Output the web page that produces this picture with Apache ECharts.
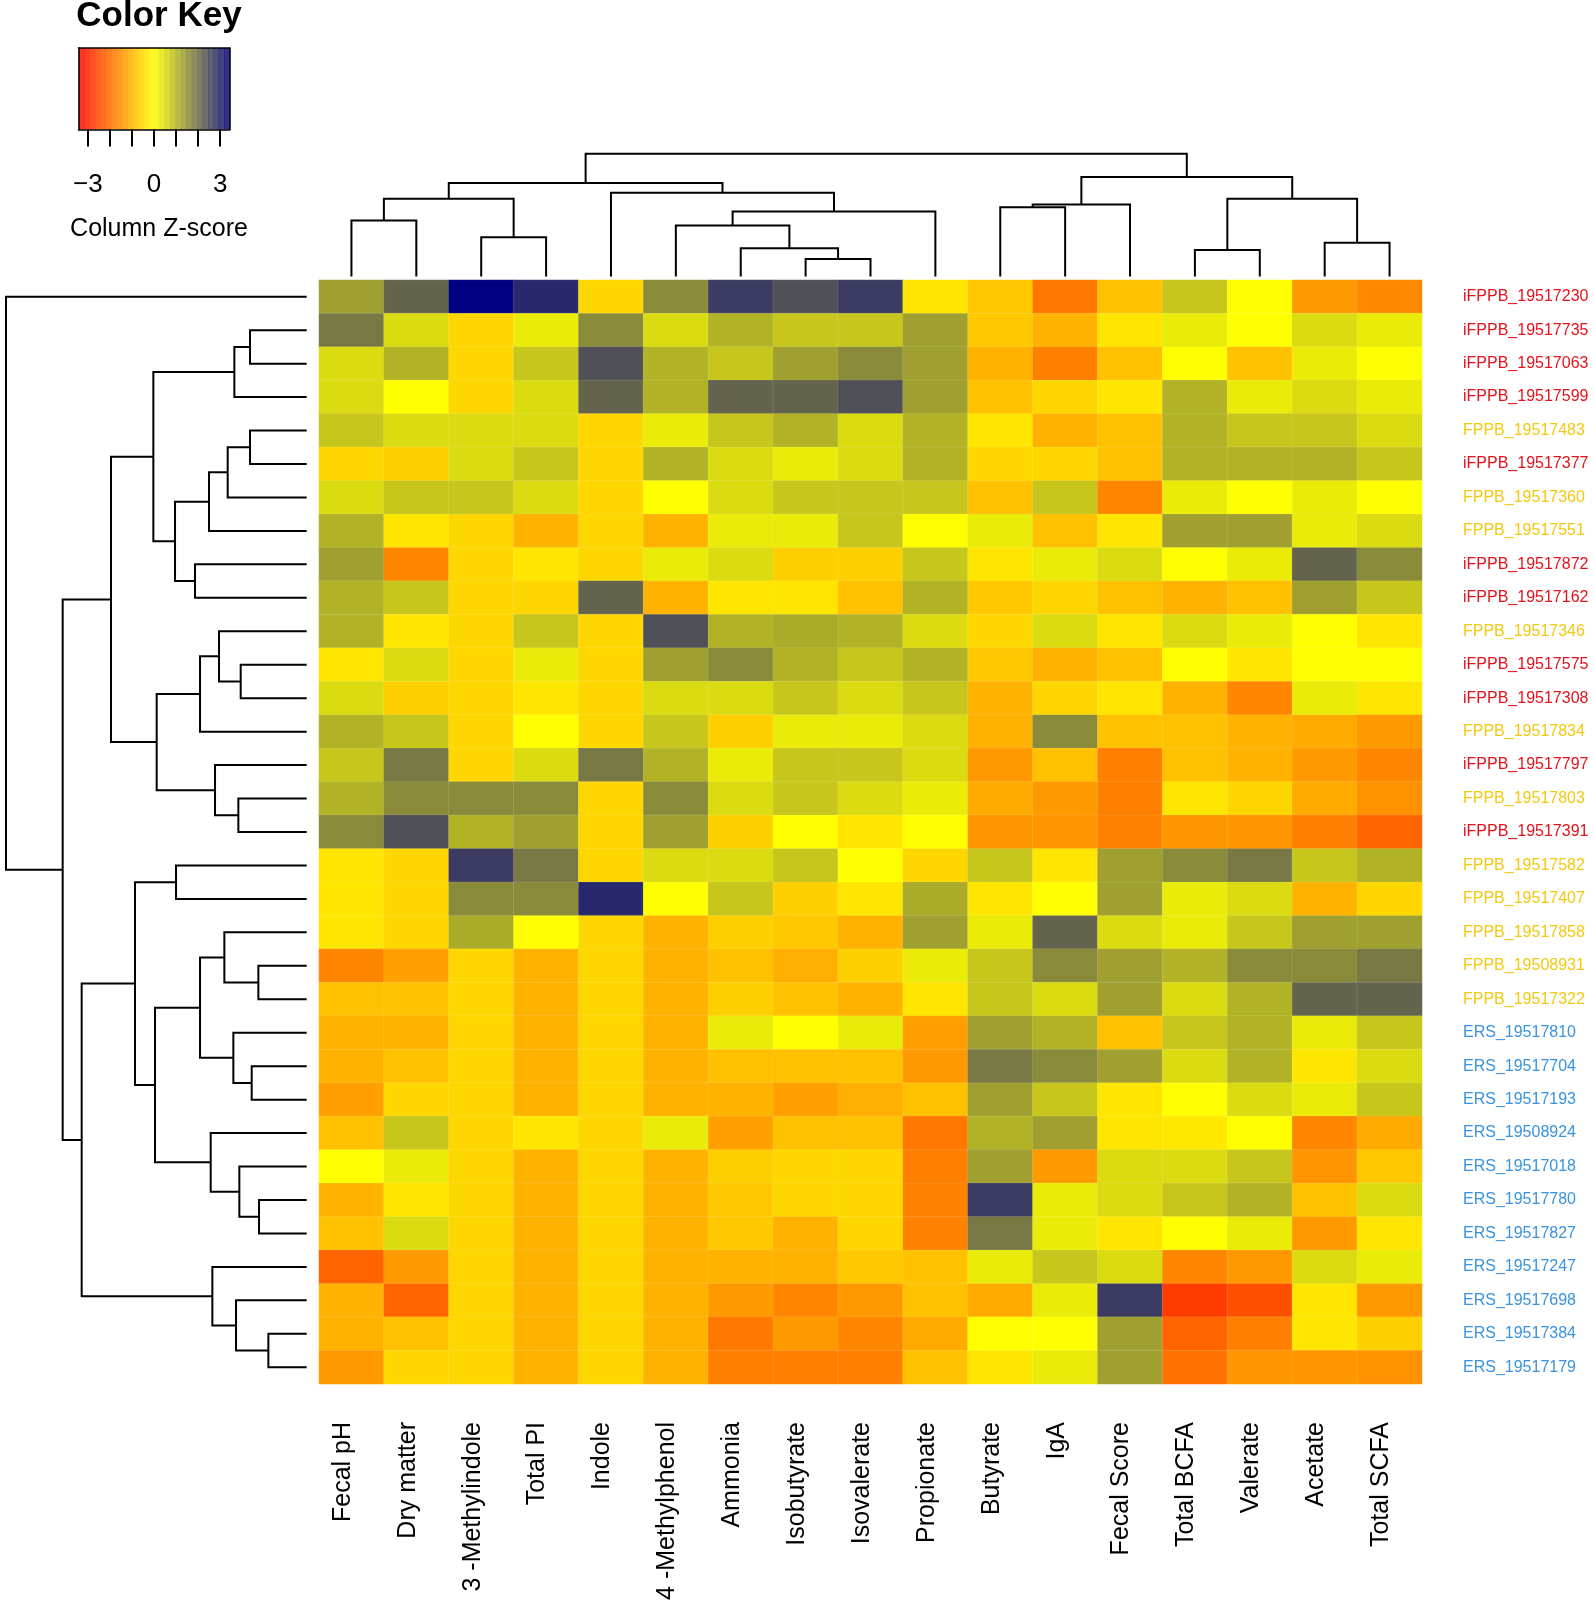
<!DOCTYPE html>
<html><head><meta charset="utf-8">
<script src="https://cdn.jsdelivr.net/npm/echarts@6/dist/echarts.min.js"></script>
<style>html,body{margin:0;padding:0;background:#fff}#chart{width:1594px;height:1606px}</style>
</head><body><div id="chart"></div>
<script>
// ---- data ----
const variables = ['Fecal pH','Dry matter','3 -Methylindole','Total PI','Indole','4 -Methylphenol','Ammonia','Isobutyrate','Isovalerate','Propionate','Butyrate','IgA','Fecal Score','Total BCFA','Valerate','Acetate','Total SCFA'];
const samples = ['iFPPB_19517230','iFPPB_19517735','iFPPB_19517063','iFPPB_19517599','FPPB_19517483','iFPPB_19517377','FPPB_19517360','FPPB_19517551','iFPPB_19517872','iFPPB_19517162','FPPB_19517346','iFPPB_19517575','iFPPB_19517308','FPPB_19517834','iFPPB_19517797','FPPB_19517803','iFPPB_19517391','FPPB_19517582','FPPB_19517407','FPPB_19517858','FPPB_19508931','FPPB_19517322','ERS_19517810','ERS_19517704','ERS_19517193','ERS_19508924','ERS_19517018','ERS_19517780','ERS_19517827','ERS_19517247','ERS_19517698','ERS_19517384','ERS_19517179'];
const groupColors = {iFPPB:'#E3121B', FPPB:'#F2C811', ERS:'#3A93E0'};
// column z-scores, one list per sample row (in the order of variables)
const zScores = [
 [1.3, 2.13, 3.5, 2.95, -0.55, 1.6, 2.68, 2.4, 2.68, -0.34, -0.75, -1.85, -0.85, 0.78, 0, -1.4, -1.6],
 [1.85, 0.5, -0.55, 0.27, 1.6, 0.5, 1.06, 0.78, 0.78, 1.3, -0.75, -1.05, -0.34, 0.27, 0, 0.5, 0.27],
 [0.5, 1.06, -0.55, 0.78, 2.4, 1.06, 0.78, 1.3, 1.6, 1.3, -1.05, -1.75, -0.85, 0, -0.85, 0.27, 0],
 [0.5, 0, -0.55, 0.5, 2.13, 1.06, 2.13, 2.13, 2.4, 1.3, -0.85, -0.55, -0.34, 1.06, 0.27, 0.5, 0.27],
 [0.78, 0.5, 0.5, 0.5, -0.55, 0.27, 0.78, 1.06, 0.5, 1.06, -0.34, -1.05, -0.85, 1.06, 0.78, 0.78, 0.5],
 [-0.55, -0.65, 0.5, 0.78, -0.55, 1.06, 0.5, 0.27, 0.5, 1.06, -0.55, -0.55, -0.85, 1.06, 1.06, 1.06, 0.78],
 [0.5, 0.78, 0.78, 0.5, -0.55, 0, 0.5, 0.78, 0.78, 0.78, -0.85, 0.78, -1.65, 0.27, 0, 0.27, 0],
 [1.06, -0.34, -0.55, -1.05, -0.55, -1.05, 0.27, 0.27, 0.78, 0, 0.27, -0.85, -0.34, 1.3, 1.3, 0.27, 0.5],
 [1.3, -1.65, -0.55, -0.34, -0.55, 0.27, 0.5, -0.65, -0.65, 0.78, -0.34, 0.27, 0.5, 0, 0.27, 2.13, 1.6],
 [1.06, 0.78, -0.55, -0.55, 2.13, -1.05, -0.34, -0.34, -0.85, 1.06, -0.75, -0.55, -0.85, -1.05, -0.85, 1.3, 0.78],
 [1.06, -0.34, -0.55, 0.78, -0.55, 2.4, 1.06, 1.15, 1.06, 0.5, -0.55, 0.5, -0.34, 0.5, 0.27, 0, -0.34],
 [-0.34, 0.5, -0.55, 0.27, -0.55, 1.3, 1.6, 1.06, 0.78, 1.06, -0.75, -1.05, -0.85, 0, -0.34, 0, 0],
 [0.5, -0.65, -0.55, -0.34, -0.55, 0.5, 0.5, 0.78, 0.5, 0.78, -1.05, -0.55, -0.34, -1.05, -1.65, 0.27, -0.34],
 [1.06, 0.78, -0.55, 0, -0.55, 0.78, -0.65, 0.27, 0.27, 0.5, -1.05, 1.6, -0.85, -0.85, -1.05, -1.15, -1.4],
 [0.78, 1.85, -0.55, 0.5, 1.85, 1.06, 0.27, 0.78, 0.78, 0.5, -1.4, -0.85, -1.75, -0.85, -1.05, -1.4, -1.65],
 [1.06, 1.6, 1.6, 1.6, -0.55, 1.6, 0.5, 0.78, 0.5, 0.27, -1.15, -1.4, -1.75, -0.34, -0.55, -1.15, -1.5],
 [1.6, 2.4, 1.06, 1.3, -0.55, 1.3, -0.65, 0, -0.34, 0, -1.45, -1.45, -1.7, -1.45, -1.45, -1.75, -2.13],
 [-0.34, -0.55, 2.68, 1.85, -0.55, 0.5, 0.5, 0.78, 0, -0.55, 0.78, -0.34, 1.3, 1.6, 1.85, 0.78, 1.06],
 [-0.34, -0.55, 1.6, 1.6, 2.95, 0, 0.78, -0.65, -0.34, 1.15, -0.34, 0, 1.3, 0.27, 0.5, -1.05, -0.55],
 [-0.34, -0.55, 1.15, 0, -0.55, -1.05, -0.65, -0.75, -1.05, 1.3, 0.27, 2.13, 0.5, 0.27, 0.78, 1.3, 1.3],
 [-1.65, -1.3, -0.55, -1.05, -0.55, -1.05, -0.85, -1.1, -0.65, 0.27, 0.78, 1.6, 1.3, 1.06, 1.6, 1.6, 1.85],
 [-0.85, -0.85, -0.55, -1.05, -0.55, -1.05, -0.65, -0.85, -1.05, -0.34, 0.78, 0.5, 1.3, 0.5, 1.06, 2.13, 2.13],
 [-1.05, -1.05, -0.55, -1.05, -0.55, -1.05, 0.27, 0, 0.27, -1.3, 1.3, 1.06, -0.85, 0.78, 1.06, 0.27, 0.78],
 [-1.05, -0.85, -0.55, -1.05, -0.55, -1.05, -0.85, -0.85, -0.85, -1.4, 1.85, 1.6, 1.3, 0.5, 1.06, -0.34, 0.5],
 [-1.3, -0.55, -0.55, -1.05, -0.55, -1.05, -1.05, -1.3, -1.1, -0.85, 1.3, 0.78, -0.34, 0, 0.5, 0.27, 0.78],
 [-0.85, 0.78, -0.55, -0.34, -0.55, 0.27, -1.3, -0.85, -0.85, -1.85, 1.06, 1.3, -0.34, -0.3, 0, -1.65, -1.15],
 [0, 0.27, -0.55, -1.05, -0.55, -1.05, -0.65, -0.55, -0.55, -1.75, 1.3, -1.4, 0.5, 0.5, 0.78, -1.45, -0.75],
 [-1.05, -0.34, -0.55, -1.05, -0.55, -1.05, -0.75, -0.55, -0.55, -1.7, 2.68, 0.27, 0.5, 0.78, 1.06, -0.85, 0.5],
 [-0.85, 0.5, -0.55, -1.05, -0.55, -1.05, -0.75, -1.05, -0.55, -1.7, 1.85, 0.27, -0.34, 0, 0.27, -1.4, -0.34],
 [-2.13, -1.4, -0.55, -1.05, -0.55, -1.05, -1.05, -1.05, -0.75, -0.85, 0.27, 0.78, 0.5, -1.65, -1.4, 0.5, 0.27],
 [-1.05, -2.13, -0.55, -1.05, -0.55, -1.05, -1.4, -1.65, -1.4, -0.85, -1.15, 0.27, 2.68, -2.68, -2.4, -0.34, -1.4],
 [-1.05, -0.85, -0.55, -1.05, -0.55, -1.05, -1.85, -1.4, -1.65, -1.15, 0, 0, 1.3, -2.13, -1.75, -0.34, -0.65],
 [-1.4, -0.55, -0.55, -1.05, -0.55, -1.05, -1.75, -1.75, -1.75, -0.85, -0.34, 0.27, 1.3, -1.95, -1.45, -1.45, -1.5]
];
// dendrogram merges: [childA, childB, height]; leaves are 0..n-1, merge k is n+k
const colMerges = [
 [0,1,168],[2,3,118],[17,18,233],[7,8,53],[6,20,85],[5,21,153],[22,9,195],[4,23,251],
 [19,24,280],[10,11,208],[26,12,216],[13,14,80],[15,16,101],[28,29,233],[27,30,298],[25,31,368]
];
const rowMerges = [
 [1,2,170],[33,3,217],[4,5,170],[35,6,237],[36,7,293],[8,9,335],[37,38,395],[34,39,460],
 [11,12,198],[10,41,263],[42,13,320],[15,16,205],[14,44,275],[43,45,450],[40,46,587],
 [17,18,392],[20,21,145],[19,49,247],[23,24,165],[22,51,220],[50,52,320],[27,28,143],
 [26,54,202],[25,55,288],[53,56,455],[48,57,515],[31,32,115],[30,59,212],[29,60,283],
 [58,61,675],[47,62,732],[0,63,902]
];
const keyTicks = [-3,-2,-1,0,1,2,3];
const keyLabels = [-3,0,3];
const keyRange = [-3.42, 3.42];
const keyStripes = 28;

// ---- build ----
function treeSegments(n, merges){
  const pos=[], hgt=[];
  for(let i=0;i<n;i++){pos[i]=i;hgt[i]=0;}
  return merges.map((m,k)=>{
    const [a,b,h]=m; const id=n+k;
    pos[id]=(pos[a]+pos[b])/2; hgt[id]=h;
    return [pos[a],hgt[a],pos[b],hgt[b],h];
  });
}
const colSegs = treeSegments(variables.length, colMerges);
const rowSegs = treeSegments(samples.length, rowMerges);
const heatData = [];
zScores.forEach((row,r)=>row.forEach((v,c)=>heatData.push([c,r,v])));
const keyData = [];
const kw = (keyRange[1]-keyRange[0])/keyStripes;
for(let i=0;i<keyStripes;i++){const v=keyRange[0]+kw*(i+0.5); keyData.push([v,0.5,v]);}

const FONT = "'Liberation Sans', Arial, Helvetica, sans-serif";
function groupOf(name){return name.split('_')[0];}

function dendroRender(orient){
  return function(params, api){
    const pa=api.value(0), ha=api.value(1), pb=api.value(2), hb=api.value(3), h=api.value(4);
    const pt = orient==='top' ? (p,hh)=>api.coord([p,hh]) : (p,hh)=>api.coord([hh,p]);
    return {type:'polyline', shape:{points:[pt(pa,ha),pt(pa,h),pt(pb,h),pt(pb,hb)]},
      style:{stroke:'#000', lineWidth:2, fill:null, lineJoin:'miter'}};
  };
}

const chart = echarts.init(document.getElementById('chart'), null, {renderer:'canvas'});
const HM = {left:319, top:280, width:1103, height:1104};
chart.setOption({
  backgroundColor:'#fff',
  animation:false,
  title:[
    {text:'Color Key', left:154, top:-6, textAlign:'center',
      textStyle:{fontSize:35, fontWeight:'bold', color:'#000', fontFamily:FONT}},
    {text:'Column Z-score', left:154, top:212, textAlign:'center',
      textStyle:{fontSize:25, fontWeight:'normal', color:'#000', fontFamily:FONT}}
  ],
  grid:[
    {left:HM.left, top:HM.top, width:HM.width, height:HM.height, outerBoundsMode:'none'},
    {left:HM.left, top:153.7, width:HM.width, height:122.9, outerBoundsMode:'none'},
    {left:6, top:HM.top, width:300.7, height:HM.height, outerBoundsMode:'none'},
    {left:78.5, top:48, width:151, height:81.5, outerBoundsMode:'none'}
  ],
  xAxis:[
    {type:'category', gridIndex:0, data:variables, position:'bottom',
      axisLine:{show:false}, axisTick:{show:false}, splitLine:{show:false},
      axisLabel:{rotate:90, margin:38, fontSize:25, color:'#000', fontFamily:FONT,
        verticalAlign:'bottom', lineHeight:17, interval:0}},
    {type:'value', gridIndex:1, min:-0.5, max:variables.length-0.5, show:false},
    {type:'value', gridIndex:2, min:0, max:902, inverse:true, show:false},
    {type:'value', gridIndex:3, min:keyRange[0], max:keyRange[1], position:'bottom', z:10,
      axisLine:{show:true, onZero:false, lineStyle:{color:'#000', width:1.5}},
      axisTick:{show:true, customValues:keyTicks, length:17, lineStyle:{color:'#000', width:2}},
      axisLabel:{show:true, customValues:keyLabels, margin:42, fontSize:26, color:'#000', fontFamily:FONT,
        formatter:v=> v<0 ? '\u2212'+Math.abs(v) : String(v)},
      splitLine:{show:false}},
    {type:'value', gridIndex:3, min:keyRange[0], max:keyRange[1], position:'top', z:10,
      axisLine:{show:true, onZero:false, lineStyle:{color:'#000', width:1.5}},
      axisTick:{show:false}, axisLabel:{show:false}, splitLine:{show:false}}
  ],
  yAxis:[
    {type:'category', gridIndex:0, data:samples, inverse:true, position:'right',
      axisLine:{show:false}, axisTick:{show:false}, splitLine:{show:false},
      axisLabel:{margin:41, fontSize:16, fontFamily:FONT, align:'left', interval:0,
        color:(v)=>groupColors[groupOf(v)]}},
    {type:'value', gridIndex:1, min:0, max:368, show:false},
    {type:'value', gridIndex:2, min:-0.5, max:samples.length-0.5, inverse:true, show:false},
    {type:'value', gridIndex:3, min:0, max:1, position:'left', z:10,
      axisLine:{show:true, onZero:false, lineStyle:{color:'#000', width:1.5}},
      axisTick:{show:false}, axisLabel:{show:false}, splitLine:{show:false}},
    {type:'value', gridIndex:3, min:0, max:1, position:'right', z:10,
      axisLine:{show:true, onZero:false, lineStyle:{color:'#000', width:1.5}},
      axisTick:{show:false}, axisLabel:{show:false}, splitLine:{show:false}}
  ],
  visualMap:{type:'continuous', show:false, min:-3.5, max:3.5, dimension:2, seriesIndex:[0,3],
    inRange:{color:['#FF0000','#FFFF00','#000080']}},
  series:[
    {type:'heatmap', xAxisIndex:0, yAxisIndex:0, data:heatData, progressive:0,
      itemStyle:{borderWidth:0.6, borderColor:'rgba(255,255,255,0.18)'},
      emphasis:{disabled:true}},
    {type:'custom', xAxisIndex:1, yAxisIndex:1, data:colSegs, encode:{x:[0,2], y:[1,3,4]},
      renderItem:dendroRender('top'), silent:true},
    {type:'custom', xAxisIndex:2, yAxisIndex:2, data:rowSegs, encode:{x:[1,3,4], y:[0,2]},
      renderItem:dendroRender('left'), silent:true},
    {type:'custom', xAxisIndex:3, yAxisIndex:3, data:keyData, encode:{x:0, y:1},
      renderItem:function(params, api){
        const v=api.value(0);
        const p1=api.coord([v-kw/2, 1]), p2=api.coord([v+kw/2, 0]);
        return {type:'rect', shape:{x:p1[0], y:p1[1], width:p2[0]-p1[0]+0.6, height:p2[1]-p1[1]},
          style:{fill:api.visual('color'), opacity:0.85}};
      }, silent:true}
  ]
});
</script></body></html>
